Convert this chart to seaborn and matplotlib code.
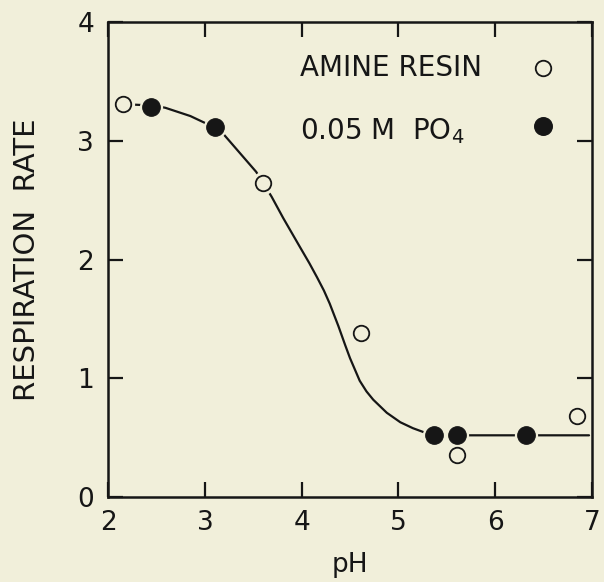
import numpy as np
import pandas as pd
import matplotlib
matplotlib.use("Agg")
import matplotlib.pyplot as plt
import seaborn as sns

# ------------------------------
# Data
# ------------------------------
resin_ph = [2.15, 3.60, 4.61, 5.61, 6.85]
resin_rate = [3.31, 2.65, 1.38, 0.35, 0.68]

po4_ph = [2.44, 3.10, 5.37, 5.61, 6.32]
po4_rate = [3.29, 3.12, 0.52, 0.52, 0.52]

# hand-drawn fitted curve
curve_ph = [2.15, 2.44, 2.59, 2.85, 2.98, 3.10, 3.19, 3.36, 3.53, 3.60, 3.69,
            3.81, 3.98, 4.08, 4.16, 4.23, 4.29, 4.38, 4.45, 4.50, 4.60, 4.67,
            4.74, 4.88, 5.02, 5.15, 5.30, 5.40, 6.97]
curve_rate = [3.31, 3.30, 3.28, 3.21, 3.16, 3.115, 3.06, 2.90, 2.74, 2.65, 2.53,
              2.35, 2.11, 1.97, 1.85, 1.74, 1.63, 1.44, 1.28, 1.17, 0.98, 0.89,
              0.82, 0.71, 0.63, 0.58, 0.535, 0.52, 0.52]

x_ticks = [2, 3, 4, 5, 6, 7]
y_ticks = [0, 1, 2, 3, 4]
key_labels = ['AMINE RESIN', '0.05 M  PO$_4$']

resin_df = pd.DataFrame({'pH': resin_ph, 'rate': resin_rate})
po4_df = pd.DataFrame({'pH': po4_ph, 'rate': po4_rate})
curve_df = pd.DataFrame({'pH': curve_ph, 'rate': curve_rate})

# ------------------------------
# Style
# ------------------------------
bg = '#F1EFDA'
ink = '#161616'
sns.set_style('ticks')
plt.rcParams['font.family'] = ['DejaVu Sans']

fig = plt.figure(figsize=(6.04, 5.82), dpi=100, facecolor=bg)
ax = fig.add_axes([0.179, 0.146, 0.801, 0.8157])
ax.set_facecolor(bg)

# curve
sns.lineplot(data=curve_df, x='pH', y='rate', sort=False, color=ink,
             linewidth=1.6, ax=ax, zorder=2)

# halo so the line breaks around the points
ax.scatter(resin_ph + po4_ph, resin_rate + po4_rate, s=280, color=bg,
           linewidths=0, zorder=3)

sns.scatterplot(data=resin_df, x='pH', y='rate', marker='o', s=125,
                facecolor=bg, edgecolor=ink, linewidth=1.3, ax=ax, zorder=4)
sns.scatterplot(data=po4_df, x='pH', y='rate', marker='o', s=160,
                color=ink, edgecolor=ink, linewidth=0.8, ax=ax, zorder=4)

ax.set_xlim(2, 7)
ax.set_ylim(0, 4)
ax.set_xticks(x_ticks)
ax.set_yticks(y_ticks)
ax.set_xticklabels([str(t) for t in x_ticks])
ax.set_yticklabels([str(t) for t in y_ticks])

ax.tick_params(direction='in', length=11, width=1.6, colors=ink,
               labelsize=19, top=True, right=True)
ax.tick_params(axis='x', pad=9)
ax.tick_params(axis='y', pad=10)
for s in ax.spines.values():
    s.set_linewidth(1.8)
    s.set_color(ink)

ax.set_xlabel('pH', fontsize=19, color=ink, labelpad=12)
ax.set_ylabel('RESPIRATION  RATE', fontsize=21, color=ink, labelpad=26)

# key in the upper right: labels left-aligned, markers in a column at right
key_y = [0.903, 0.770]
ax.text(0.397, key_y[0], key_labels[0], transform=ax.transAxes, fontsize=20,
        color=ink, va='center', ha='left')
ax.text(0.397, key_y[1], key_labels[1], transform=ax.transAxes, fontsize=20,
        color=ink, va='center', ha='left')
ax.scatter([0.899], [key_y[0]], s=125, facecolor=bg, edgecolor=ink,
           linewidth=1.3, transform=ax.transAxes, zorder=5)
ax.scatter([0.899], [key_y[1] + 0.012], s=160, color=ink,
           transform=ax.transAxes, zorder=5)

fig.savefig('out.png', dpi=100, facecolor=bg)
